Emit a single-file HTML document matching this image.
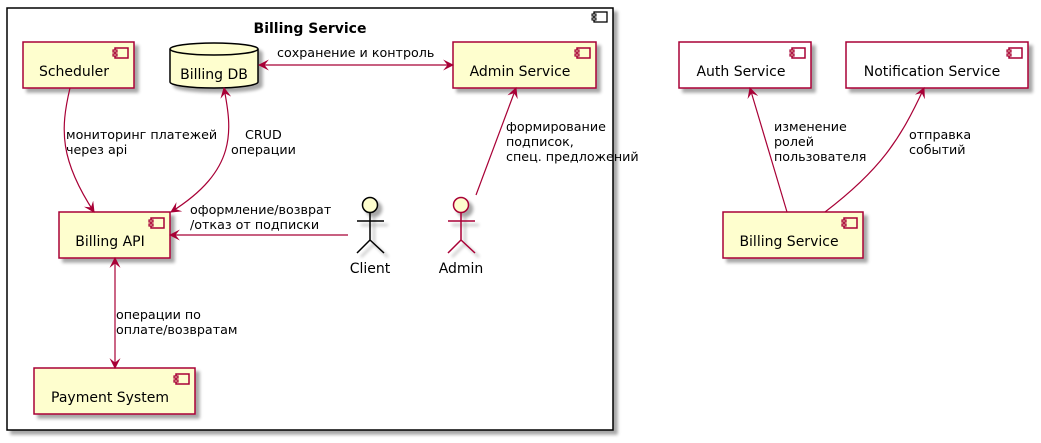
<!DOCTYPE html>
<html><head><meta charset="utf-8"><style>
html,body{margin:0;padding:0;background:#fff;}
svg{display:block;}
text{font-family:"DejaVu Sans","Liberation Sans",sans-serif;font-size:14px;fill:#000;}
.s{font-size:12.7px;}
</style></head><body>
<svg width="1041" height="443" viewBox="0 0 1041 443" xmlns="http://www.w3.org/2000/svg">
<defs>
<filter id="sh" x="-10%" y="-10%" width="130%" height="140%"><feGaussianBlur in="SourceAlpha" stdDeviation="1.5"/><feOffset dx="4" dy="4"/><feComponentTransfer><feFuncA type="linear" slope="0.35"/></feComponentTransfer><feMerge><feMergeNode/><feMergeNode in="SourceGraphic"/></feMerge></filter>
<marker id="ah" viewBox="0 0 10 10" refX="9" refY="5" markerWidth="11" markerHeight="11" orient="auto-start-reverse" markerUnits="userSpaceOnUse"><path d="M0,0 L10,5 L0,10 L4,5 Z" fill="#A80036"/></marker>
<g id="ic"><rect x="0" y="0" width="13" height="10" fill="none" stroke="#A80036" stroke-width="1.5"/><rect x="-2" y="2" width="4" height="2" fill="#FEFECE" stroke="#A80036" stroke-width="1.2"/><rect x="-2" y="6" width="4" height="2" fill="#FEFECE" stroke="#A80036" stroke-width="1.2"/></g>
</defs>
<rect x="7" y="8" width="606" height="422" fill="#fff" stroke="#000" stroke-width="1.5" filter="url(#sh)"/>
<g transform="translate(594,12)"><rect x="0" y="0" width="13" height="10" fill="none" stroke="#000" stroke-width="1.3"/><rect x="-2" y="2" width="4" height="2" fill="#fff" stroke="#000"/><rect x="-2" y="6" width="4" height="2" fill="#fff" stroke="#000"/></g>
<text x="310" y="33" text-anchor="middle" style="font-weight:bold;font-size:14px">Billing Service</text>

<g stroke="#A80036" stroke-width="1.5" fill="#FEFECE">
<rect x="23" y="42" width="111" height="46" filter="url(#sh)"/>
<rect x="453" y="42" width="143" height="46" filter="url(#sh)"/>
<rect x="59" y="212" width="111" height="46" filter="url(#sh)"/>
<rect x="34" y="368" width="161" height="46" filter="url(#sh)"/>
<rect x="679" y="42" width="132" height="46" fill="#fff" filter="url(#sh)"/>
<rect x="846" y="42" width="182" height="46" fill="#fff" filter="url(#sh)"/>
<rect x="723" y="212" width="140" height="46" filter="url(#sh)"/>
</g>
<use href="#ic" x="115" y="48"/>
<use href="#ic" x="577" y="48"/>
<use href="#ic" x="151" y="218"/>
<use href="#ic" x="176" y="374"/>
<use href="#ic" x="792" y="48"/>
<use href="#ic" x="1009" y="48"/>
<use href="#ic" x="844" y="218"/>
<text x="74" y="76" text-anchor="middle">Scheduler</text>
<text x="520" y="76" text-anchor="middle">Admin Service</text>
<text x="110" y="246" text-anchor="middle">Billing API</text>
<text x="110" y="402" text-anchor="middle">Payment System</text>
<text x="741" y="76" text-anchor="middle">Auth Service</text>
<text x="932" y="76" text-anchor="middle">Notification Service</text>
<text x="789" y="246" text-anchor="middle">Billing Service</text>

<g filter="url(#sh)"><path d="M170,49 A44,6 0 0 1 258,49 L258,82 A44,6 0 0 1 170,82 Z" fill="#FEFECE" stroke="#000" stroke-width="1.5"/></g>
<path d="M170,49 A44,6 0 0 0 258,49" fill="none" stroke="#000" stroke-width="1.5"/>
<text x="214" y="79" text-anchor="middle">Billing DB</text>

<g filter="url(#sh)">
<g stroke="#000" stroke-width="1.5" fill="none"><circle cx="370" cy="205" r="7.5" fill="#FEFECE"/><path d="M370,213 V240 M357,221 H384 M357,253 L370,240 L384,253"/></g>
<g stroke="#A80036" stroke-width="1.5" fill="none"><circle cx="461" cy="205" r="7.5" fill="#FEFECE"/><path d="M461,213 V240 M448,221 H475 M448,253 L461,240 L475,253"/></g>
</g>
<text x="370" y="273" text-anchor="middle">Client</text>
<text x="461" y="273" text-anchor="middle">Admin</text>

<g stroke="#A80036" stroke-width="1.2" fill="none">
<path d="M70,88 C60,130 60,160 94,212" marker-end="url(#ah)"/>
<path d="M224,88 C232,130 238,170 171,212" marker-start="url(#ah)" marker-end="url(#ah)"/>
<path d="M259,65 H453" marker-start="url(#ah)" marker-end="url(#ah)"/>
<path d="M348,235 H170" marker-end="url(#ah)"/>
<path d="M476,195 L516,88" marker-end="url(#ah)"/>
<path d="M115,258 V368" marker-start="url(#ah)" marker-end="url(#ah)"/>
<path d="M787,212 L750,88" marker-end="url(#ah)"/>
<path d="M825,212 C880,170 900,140 924,88" marker-end="url(#ah)"/>
</g>

<text class="s" x="277" y="57">сохранение и контроль</text>
<text class="s" x="66" y="139">мониторинг платежей</text>
<text class="s" x="66" y="154">через api</text>
<text class="s" x="245" y="139">CRUD</text>
<text class="s" x="231" y="154">операции</text>
<text class="s" x="506" y="131">формирование</text>
<text class="s" x="506" y="146">подписок,</text>
<text class="s" x="506" y="161">спец. предложений</text>
<text class="s" x="190" y="214">оформление/возврат</text>
<text class="s" x="190" y="229">/отказ от подписки</text>
<text class="s" x="116" y="319">операции по</text>
<text class="s" x="116" y="334">оплате/возвратам</text>
<text class="s" x="774" y="131">изменение</text>
<text class="s" x="774" y="146">ролей</text>
<text class="s" x="774" y="161">пользователя</text>
<text class="s" x="909" y="139">отправка</text>
<text class="s" x="909" y="154">событий</text>
</svg>
</body></html>
